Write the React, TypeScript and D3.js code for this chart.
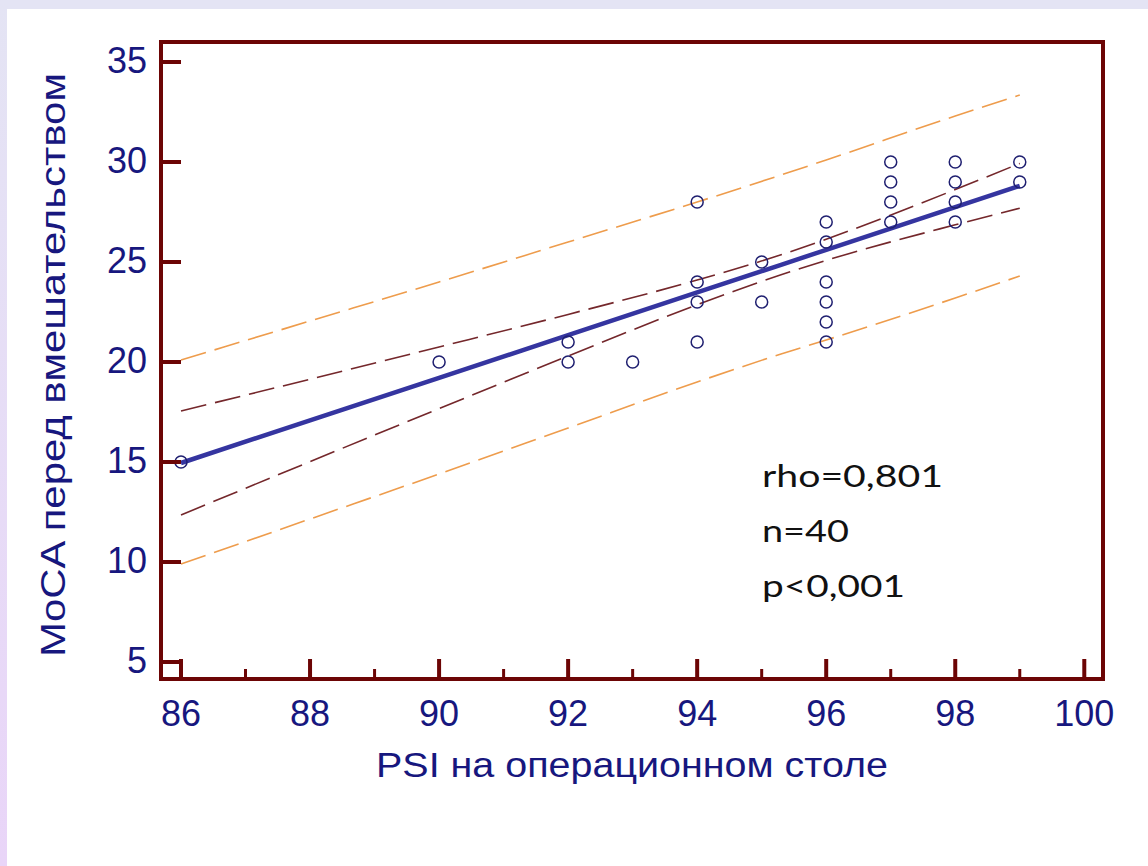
import React from "react";
import * as d3 from "d3";

// Observations: PSI on the operating table vs MoCA score before surgery
const psi = [86, 90, 92, 92, 93, 94, 94, 94, 94, 95, 95, 96, 96, 96, 96, 96, 96, 97, 97, 97, 97, 98, 98, 98, 98, 99, 99];
const moca = [15, 20, 21, 20, 20, 28, 24, 23, 21, 25, 23, 27, 26, 24, 23, 22, 21, 30, 29, 28, 27, 30, 29, 28, 27, 30, 29];

// Regression fit with confidence and prediction bands, sampled along PSI
const bandX = [86, 88, 90, 92, 94, 95.3, 96, 98, 99];
const fit = [14.95, 17.08, 19.21, 21.34, 23.48, 24.86, 25.61, 27.74, 28.81];
const ciUpper = [17.55, 19.14, 20.75, 22.38, 24.1, 25.36, 26.14, 28.62, 29.93];
const ciLower = [12.35, 15.02, 17.67, 20.3, 22.86, 24.36, 25.08, 26.86, 27.69];
const piUpper = [20.1, 22.05, 24.0, 26.0, 28.0, 29.35, 30.1, 32.3, 33.35];
const piLower = [9.9, 12.15, 14.4, 16.7, 19.0, 20.4, 21.1, 23.2, 24.3];

const xMajorTicks = [86, 88, 90, 92, 94, 96, 98, 100];
const xMinorTicks = [87, 89, 91, 93, 95, 97, 99];
const yTicks = [5, 10, 15, 20, 25, 30, 35];

const statLines = ["rho=0,801", "n=40", "p<0,001"];
const statWidths = [181, 87, 143];
const xTitle = "PSI на операционном столе";
const yTitle = "MoCA перед вмешательством";

const W = 1148;
const H = 866;
const frame = { left: 161, right: 1103, top: 42, bottom: 679 };

const AXIS = "#6c0505";
const NAVY = "#17177e";

export default function App() {
  const x = d3.scaleLinear().domain([85.69, 100.29]).range([frame.left, frame.right]);
  const y = d3.scaleLinear().domain([4.15, 36]).range([frame.bottom, frame.top]);

  const band = (vals: number[]) =>
    d3
      .line<number>()
      .x((_, i) => x(bandX[i]))
      .y((v) => y(v))
      .curve(d3.curveMonotoneX)(vals) || "";

  const fitPath =
    d3
      .line<number>()
      .x((_, i) => x(bandX[i]))
      .y((v) => y(v))(fit) || "";

  const font = "'Liberation Sans', Arial, sans-serif";

  return (
    <svg
      width={W}
      height={H}
      style={{ position: "absolute", left: 0, top: 0, display: "block" }}
    >
      <defs>
        <linearGradient id="edge" x1="0" y1="0" x2="0" y2="1">
          <stop offset="0" stopColor="#e4e4f4" />
          <stop offset="1" stopColor="#e9d5f8" />
        </linearGradient>
      </defs>
      <rect x={0} y={0} width={W} height={H} fill="#e4e4f4" />
      <rect x={0} y={0} width={7} height={H} fill="url(#edge)" />
      <rect x={7} y={9} width={W - 7} height={H - 9} fill="#ffffff" />

      {/* prediction band */}
      <path d={band(piUpper)} fill="none" stroke="#ee9c4c" strokeWidth={1.6} strokeDasharray="26 9" />
      <path d={band(piLower)} fill="none" stroke="#ee9c4c" strokeWidth={1.6} strokeDasharray="26 9" />
      {/* confidence band */}
      <path d={band(ciUpper)} fill="none" stroke="#74272b" strokeWidth={1.6} strokeDasharray="26 9" />
      <path d={band(ciLower)} fill="none" stroke="#74272b" strokeWidth={1.6} strokeDasharray="26 9" />

      {/* regression line */}
      <path d={fitPath} fill="none" stroke="#3535a0" strokeWidth={4.5} />

      {/* observations */}
      {psi.map((p, i) => (
        <circle
          key={i}
          cx={x(p)}
          cy={y(moca[i])}
          r={6}
          fill="none"
          stroke="#1f1f70"
          strokeWidth={1.5}
        />
      ))}

      {/* axis frame */}
      <rect
        x={frame.left}
        y={frame.top}
        width={frame.right - frame.left}
        height={frame.bottom - frame.top}
        fill="none"
        stroke={AXIS}
        strokeWidth={4}
      />
      {yTicks.map((t) => (
        <line key={"yt" + t} x1={frame.left} x2={frame.left + 20} y1={y(t)} y2={y(t)} stroke={AXIS} strokeWidth={4} />
      ))}
      {xMajorTicks.map((t) => (
        <line key={"xt" + t} x1={x(t)} x2={x(t)} y1={frame.bottom} y2={frame.bottom - 20} stroke={AXIS} strokeWidth={4} />
      ))}
      {xMinorTicks.map((t) => (
        <line key={"xm" + t} x1={x(t)} x2={x(t)} y1={frame.bottom} y2={frame.bottom - 10} stroke={AXIS} strokeWidth={3} />
      ))}

      {/* tick labels */}
      {yTicks.map((t) => (
        <text key={"yl" + t} x={147} y={y(t) + 11} textAnchor="end" fontFamily={font} fontSize={36} fill={NAVY}>
          {t}
        </text>
      ))}
      {xMajorTicks.map((t) => (
        <text key={"xl" + t} x={x(t)} y={726} textAnchor="middle" fontFamily={font} fontSize={36} fill={NAVY}>
          {t}
        </text>
      ))}

      {/* axis titles */}
      <text
        x={376}
        y={777}
        fontFamily={font}
        fontSize={35}
        fill={NAVY}
        textLength={512}
        lengthAdjust="spacingAndGlyphs"
      >
        {xTitle}
      </text>
      <text
        transform={`translate(65, 657) rotate(-90)`}
        fontFamily={font}
        fontSize={35}
        fill={NAVY}
        textLength={584}
        lengthAdjust="spacingAndGlyphs"
      >
        {yTitle}
      </text>

      {/* statistics */}
      {statLines.map((s, i) => (
        <text
          key={s}
          x={762}
          y={487 + i * 55}
          fontFamily="Lato, 'Open Sans', sans-serif"
          fontSize={31}
          fill="#111111"
          textLength={statWidths[i]}
          lengthAdjust="spacingAndGlyphs"
        >
          {s}
        </text>
      ))}
    </svg>
  );
}
